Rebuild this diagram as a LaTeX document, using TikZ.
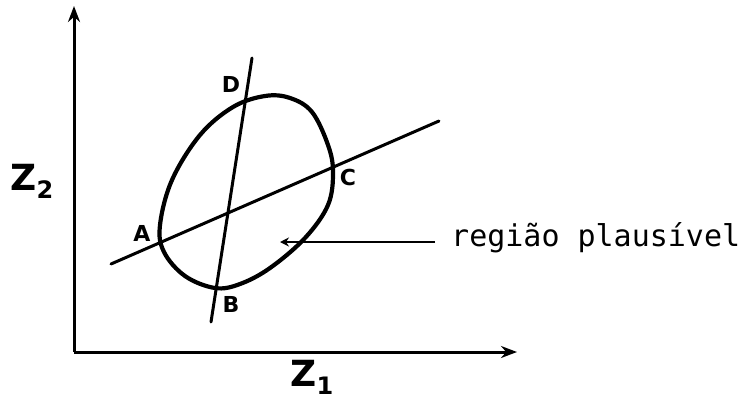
\documentclass[tikz,border=0pt]{standalone}
\usepackage{fontspec}
\newfontfamily\monofont{DejaVu Sans Mono}
\newfontfamily\handfont{DejaVu Sans}
\usetikzlibrary{arrows.meta}
\begin{document}
\begin{tikzpicture}[x=1pt,y=-1pt,
  axis/.style={line width=3pt,-{Stealth[length=16pt,width=12pt]}},
  chord/.style={line width=3pt,line cap=round},
  region/.style={line width=4.2pt,line join=round},
  pt/.style={font=\handfont\bfseries\fontsize{22}{22}\selectfont},
  axlabel/.style={font=\handfont\bfseries\fontsize{36}{36}\selectfont}]
\useasboundingbox (0,0) rectangle (755,402);
% axes
\coordinate (O) at (74,352);
\coordinate (Ytip) at (74,6);
\coordinate (Xtip) at (517,352);
\draw[axis] (O) -- (Ytip);
\draw[axis] (O) -- (Xtip);
\node[axlabel] (z2) at (32,181) {Z\raisebox{-8pt}{\fontsize{24}{24}\selectfont 2}};
\node[axlabel] (z1) at (312,377) {Z\raisebox{-8pt}{\fontsize{24}{24}\selectfont 1}};
% region
\draw[region] plot[smooth cycle,tension=0.6] coordinates {
  (160,225) (172,180) (200,135) (233,107) (265,96) (290,98) (312,112)
  (328,145) (333,172) (328,205) (305,238) (270,268) (240,284) (215,288)
  (185,276) (164,252)};
% chords
\coordinate (L1a) at (111,264);
\coordinate (L1b) at (439,121);
\coordinate (L2a) at (252,58);
\coordinate (L2b) at (211,322);
\draw[chord] (L1a) -- (L1b);
\draw[chord] (L2a) -- (L2b);
% point labels
\node[pt] (A) at (142,233) {A};
\node[pt] (B) at (231,304) {B};
\node[pt] (C) at (348,177) {C};
\node[pt] (D) at (231,84) {D};
% label with pointer
\node[font=\monofont\fontsize{30}{30}\selectfont,anchor=west,inner sep=0pt] (lbl) at (451,238) {região plausível};
\coordinate (tgt) at (280,242);
\draw[line width=2.2pt,-{Stealth[length=9pt,width=9pt]}] (lbl.west |- tgt) ++(-16,0) coordinate (src) -- (tgt);
\end{tikzpicture}
\end{document}
